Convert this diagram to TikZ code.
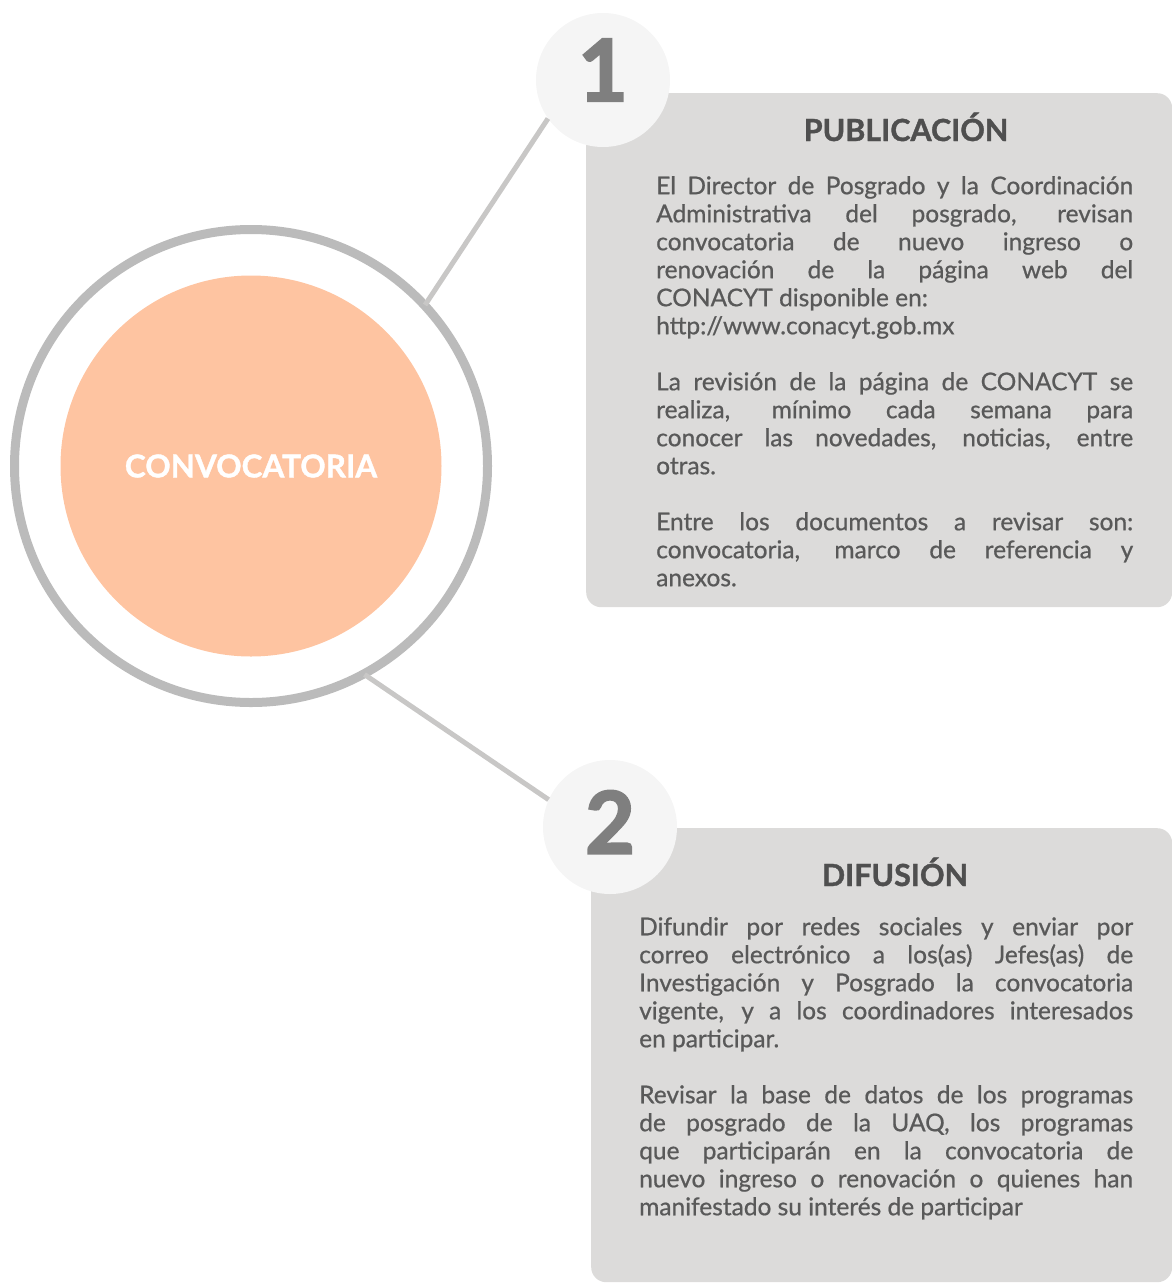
\documentclass[tikz,border=0pt]{standalone}
\usepackage{fontspec}
\setmainfont{Lato}
\newfontfamily\bodyfont{Lato}[FakeBold=0.7]
\newfontfamily\heavyfont{Lato}[BoldFeatures={FakeBold=1.2}]
\newfontfamily\numfont{Lato}[BoldFeatures={FakeBold=2.5}]
\usetikzlibrary{positioning}
\hyphenpenalty=10000
\tolerance=10000

\definecolor{ringgray}{HTML}{BBBBBB}
\definecolor{spokegray}{HTML}{C8C7C6}
\definecolor{peach}{HTML}{FEC4A1}
\definecolor{bubblefill}{HTML}{F5F5F5}
\definecolor{boxgray}{HTML}{DCDBDA}
\definecolor{numgray}{HTML}{7F7F7F}
\definecolor{headgray}{HTML}{4F4F4F}
\definecolor{bodygray}{HTML}{595959}

\tikzset{
  ring/.style={circle, draw=ringgray, line width=9pt, minimum size=473pt, inner sep=0pt},
  core/.style={circle, fill=peach, minimum size=381pt, inner sep=0pt,
    text=white, font=\heavyfont\bfseries\fontsize{31.5}{36}\selectfont},
  bubble/.style={circle, fill=bubblefill, minimum size=134pt, inner sep=0pt},
  numtext/.style={text=numgray, font=\numfont\bfseries\fontsize{86}{90}\selectfont},
  infobox/.style={fill=boxgray, rounded corners=15pt, inner sep=0pt, anchor=north west},
  heading/.style={text=headgray, font=\heavyfont\bfseries\fontsize{30.5}{34}\selectfont, anchor=base},
  bodytext/.style={text=bodygray, align=justify, inner sep=0pt, anchor=north west,
    font=\bodyfont\fontsize{24.5}{28}\selectfont},
  spoke/.style={draw=spokegray, line width=5pt}
}

\begin{document}
\begin{tikzpicture}[x=1pt,y=-1pt]
  \useasboundingbox (0,0) rectangle (1172,1283);

  % info boxes
  \node[infobox, minimum width=586pt, minimum height=514pt] (box1) at (586,93) {};
  \node[infobox, minimum width=581pt, minimum height=454pt] (box2) at (591,828) {};

  % centre
  \node[ring] (ring) at (251,466) {};
  \node[core] (conv) at (251,466) {CONVOCATORIA};

  % steps
  \node[bubble, label={[numtext, yshift=10pt]center:1}] (n1) at (603,80) {};
  \node[bubble, label={[numtext, yshift=5pt]center:2}] (n2) at (610,827) {};

  \draw[spoke, shorten <=-4pt] (ring.43) -- (n1.215);
  \draw[spoke, shorten <=-4pt] (ring.299) -- (n2.156);

  % step 1
  \node[heading] (head1) at (906,141) {PUBLICACIÓN};
  \node[bodytext, text width=477pt] (body1) at (656,176) {%
    El Director de Posgrado y la Coordinación\linebreak
    Administrativa del posgrado, revisan\linebreak
    convocatoria de nuevo ingreso o\linebreak
    renovación de la página web del\linebreak
    CONACYT disponible en:\\
    http://www.conacyt.gob.mx\\[28pt]
    La revisión de la página de CONACYT se\linebreak
    realiza, mínimo cada semana para\linebreak
    conocer las novedades, noticias, entre\linebreak
    otras.\\[28pt]
    Entre los documentos a revisar son:\linebreak
    convocatoria, marco de referencia y\linebreak
    anexos.};

  % step 2
  \node[heading] (head2) at (895,886) {DIFUSIÓN};
  \node[bodytext, text width=494pt] (body2) at (639,917) {%
    Difundir por redes sociales y enviar por\linebreak
    correo electrónico a los(as) Jefes(as) de\linebreak
    Investigación y Posgrado la convocatoria\linebreak
    vigente, y a los coordinadores interesados\linebreak
    en participar.\\[28pt]
    Revisar la base de datos de los programas\linebreak
    de posgrado de la UAQ, los programas\linebreak
    que participarán en la convocatoria de\linebreak
    nuevo ingreso o renovación o quienes han\linebreak
    manifestado su interés de participar};
\end{tikzpicture}
\end{document}
